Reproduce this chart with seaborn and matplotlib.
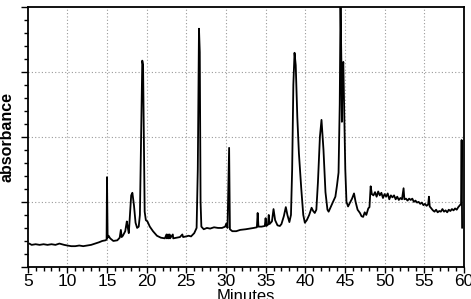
import matplotlib
matplotlib.use("Agg")
import matplotlib.pyplot as plt
from matplotlib.ticker import MultipleLocator, NullFormatter
import seaborn as sns
import pandas as pd

minutes = [5.2, 5.5, 6.0, 6.5, 7.0, 7.5, 8.0, 8.5, 9.0, 9.3, 9.6, 10.0, 10.5, 11.0, 11.5, 12.0, 12.5,
           13.0, 13.5, 14.0, 14.4, 14.8, 14.95, 15.0, 15.08, 15.2, 15.4, 15.8, 16.3, 16.6, 16.75, 16.85,
           17.0, 17.3, 17.5, 17.6, 17.75, 17.9, 18.05, 18.2, 18.4, 18.6, 18.8, 19.0, 19.15, 19.3, 19.45,
           19.55, 19.65, 19.75, 19.9, 20.1, 20.4, 20.8, 21.3, 21.8, 22.3, 22.5, 22.55, 22.7, 22.75, 22.9,
           22.95, 23.3, 23.35, 23.8, 24.2, 24.5, 24.6, 25.0, 25.3, 25.6, 26.0, 26.3, 26.45, 26.6, 26.7,
           26.8, 26.9, 27.2, 27.6, 28.0, 28.5, 29.0, 29.5, 29.9, 30.05, 30.2, 30.4, 30.5, 30.8, 31.3,
           31.8, 32.5, 33.0, 33.5, 33.9, 34.0, 34.1, 34.5, 34.9, 35.0, 35.1, 35.3, 35.4, 35.5, 35.8,
           36.0, 36.2, 36.5, 36.8, 37.0, 37.3, 37.55, 37.75, 38.0, 38.2, 38.35, 38.5, 38.65, 38.8, 39.0,
           39.2, 39.5, 39.75, 39.95, 40.2, 40.5, 40.8, 41.0, 41.2, 41.4, 41.6, 41.85, 42.05, 42.3, 42.55,
           42.8, 42.95, 43.2, 43.5, 43.8, 44.0, 44.2, 44.35, 44.45, 44.55, 44.62, 44.7, 44.8, 44.9, 45.05,
           45.2, 45.4, 45.7, 45.9, 46.15, 46.35, 46.6, 46.9, 47.1, 47.3, 47.5, 47.7, 47.95, 48.1, 48.25,
           48.4, 48.6, 48.8, 49.0, 49.2, 49.4, 49.6, 49.8, 50.0, 50.2, 50.4, 50.6, 50.8, 51.0, 51.2, 51.4,
           51.6, 51.8, 52.0, 52.2, 52.4, 52.5, 52.7, 52.9, 53.1, 53.3, 53.5, 53.7, 53.9, 54.1, 54.3, 54.5,
           54.7, 54.9, 55.1, 55.3, 55.5, 55.6, 55.7, 55.9, 56.1, 56.3, 56.5, 56.7, 56.9, 57.1, 57.3, 57.5,
           57.7, 57.9, 58.1, 58.3, 58.5, 58.7, 58.9, 59.1, 59.3, 59.5, 59.65, 59.72, 59.78]

absorbance = [0.36, 0.34, 0.35, 0.34, 0.35, 0.34, 0.35, 0.34, 0.36, 0.35, 0.34, 0.33, 0.32, 0.32, 0.33, 0.32, 0.33,
              0.34, 0.36, 0.38, 0.40, 0.41, 0.42, 1.38, 0.45, 0.48, 0.44, 0.40, 0.41, 0.45, 0.57, 0.46,
              0.48, 0.55, 0.70, 0.62, 0.52, 0.80, 1.10, 1.14, 0.95, 0.68, 0.60, 0.62, 0.80, 2.00, 3.17,
              3.10, 2.00, 0.85, 0.72, 0.70, 0.62, 0.55, 0.48, 0.45, 0.44, 0.50, 0.44, 0.50, 0.44, 0.50,
              0.44, 0.50, 0.44, 0.45, 0.46, 0.50, 0.46, 0.47, 0.48, 0.47, 0.52, 0.60, 1.50, 3.66, 3.30,
              1.00, 0.62, 0.58, 0.60, 0.59, 0.61, 0.60, 0.60, 0.62, 0.67, 0.60, 1.83, 0.58, 0.55, 0.55,
              0.57, 0.58, 0.59, 0.60, 0.61, 0.83, 0.62, 0.62, 0.63, 0.75, 0.63, 0.65, 0.80, 0.66, 0.70,
              0.89, 0.72, 0.64, 0.63, 0.66, 0.78, 0.92, 0.80, 0.69, 0.80, 1.50, 2.80, 3.29, 3.10, 2.30,
              1.75, 1.20, 0.80, 0.68, 0.72, 0.80, 0.91, 0.86, 0.83, 0.88, 1.30, 2.00, 2.26, 1.80, 1.15,
              0.88, 0.85, 0.92, 1.00, 1.08, 1.25, 1.45, 2.50, 4.05, 3.20, 2.23, 3.00, 3.15, 2.50, 1.50,
              1.00, 0.93, 1.00, 1.05, 1.13, 1.00, 0.88, 0.83, 0.78, 0.77, 0.84, 0.80, 0.90, 0.92, 1.24,
              1.12, 1.10, 1.15, 1.08, 1.16, 1.10, 1.14, 1.06, 1.12, 1.08, 1.13, 1.04, 1.10, 1.07, 1.10, 1.04,
              1.08, 1.03, 1.06, 1.04, 1.21, 1.04, 1.05, 1.02, 1.05, 1.03, 1.05, 1.00, 1.02, 0.99, 1.00, 0.97,
              0.99, 0.95, 0.97, 0.94, 0.96, 1.08, 0.93, 0.90, 0.87, 0.85, 0.88, 0.84, 0.86, 0.85, 0.89, 0.85,
              0.87, 0.84, 0.88, 0.86, 0.89, 0.87, 0.90, 0.88, 0.92, 0.95, 0.97, 1.95, 0.60]

x_ticks = [5, 10, 15, 20, 25, 30, 35, 40, 45, 50, 55, 60]

sns.set_theme(style="ticks")
plt.rcParams["font.family"] = ["Liberation Sans", "DejaVu Sans"]

df = pd.DataFrame({"Minutes": minutes, "absorbance": absorbance})

fig = plt.figure(figsize=(4.71, 2.99), dpi=100)
ax = fig.add_axes([0.0588, 0.107, 0.926, 0.871])

for gx in x_ticks[1:-1]:
    ax.axvline(gx, color="#9a9a9a", lw=0.8, ls=(0, (1, 2)), zorder=0)
for gy in [1, 2, 3]:
    ax.axhline(gy, color="#9a9a9a", lw=0.8, ls=(0, (1, 2)), zorder=0)

sns.lineplot(data=df, x="Minutes", y="absorbance", sort=False, estimator=None,
             color="black", lw=1.3, ax=ax)

ax.set_xlim(5, 60)
ax.set_ylim(0, 4)
ax.set_xticks(x_ticks)
ax.xaxis.set_minor_locator(MultipleLocator(1))
ax.yaxis.set_major_locator(MultipleLocator(1))
ax.yaxis.set_minor_locator(MultipleLocator(0.2))
ax.yaxis.set_major_formatter(NullFormatter())

for s in ax.spines.values():
    s.set_visible(True)
    s.set_color("black")
    s.set_linewidth(1.3)

ax.tick_params(axis="x", which="major", direction="out", length=4, width=1, colors="black",
               labelsize=12.5, pad=1)
ax.tick_params(axis="x", which="minor", direction="out", length=3, width=1, colors="black")
ax.tick_params(axis="y", which="major", direction="out", length=5, width=1, colors="black")
ax.tick_params(axis="y", which="minor", direction="out", length=3, width=1, colors="black")

ax.set_xlabel("Minutes", fontsize=12, labelpad=0, color="black")
ax.set_ylabel("absorbance", fontsize=11.5, fontweight="bold", color="black")
ax.yaxis.set_label_coords(-0.031, 0.5)

fig.savefig("out.png", dpi=100)
